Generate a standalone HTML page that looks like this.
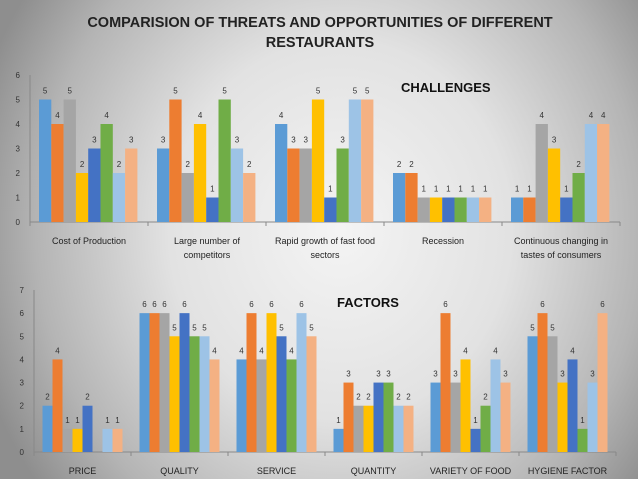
<!DOCTYPE html>
<html><head><meta charset="utf-8"><style>
html,body{margin:0;padding:0}
body{width:638px;height:479px;overflow:hidden;font-family:"Liberation Sans",sans-serif;
background:radial-gradient(ellipse 380px 420px at 340px 230px,#f4f4f4 0%,#e2e2e2 45%,#b4b4b4 80%,#8e8e8e 100%);}
svg{display:block}
</style></head><body>
<svg id="chart" width="638" height="479" xmlns="http://www.w3.org/2000/svg" font-family="Liberation Sans, sans-serif">
<text x="320" y="27" text-anchor="middle" font-size="14.5" font-weight="bold" fill="#222">COMPARISION OF THREATS AND OPPORTUNITIES OF DIFFERENT</text>
<text x="320" y="47" text-anchor="middle" font-size="14.5" font-weight="bold" fill="#222">RESTAURANTS</text>
<text x="401" y="92" font-size="13" font-weight="bold" fill="#111">CHALLENGES</text>
<text x="337" y="307" font-size="13" font-weight="bold" fill="#111">FACTORS</text>
<g id="top"></g><g id="bot"></g>
</svg>
<script>
const colors=["#5b9bd5","#ed7d31","#a5a5a5","#ffc000","#4472c4","#70ad47","#9dc3e6","#f4b183"];
const topCategories=[["Cost of Production"],["Large number of","competitors"],["Rapid growth of fast food","sectors"],["Recession"],["Continuous changing in","tastes of consumers"]];
const topValues=[[5,4,5,2,3,4,2,3],[3,5,2,4,1,5,3,2],[4,3,3,5,1,3,5,5],[2,2,1,1,1,1,1,1],[1,1,4,3,1,2,4,4]];
const topTicks=[0,1,2,3,4,5,6];
const botCategories=[["PRICE"],["QUALITY"],["SERVICE"],["QUANTITY"],["VARIETY OF FOOD"],["HYGIENE FACTOR"]];
const botValues=[[2,4,1,1,2,0,1,1],[6,6,6,5,6,5,5,4],[4,6,4,6,5,4,6,5],[1,3,2,2,3,3,2,2],[3,6,3,4,1,2,4,3],[5,6,5,3,4,1,3,6]];
const botTicks=[0,1,2,3,4,5,6,7];
const NS="http://www.w3.org/2000/svg";
function mk(p,t,a,txt){const e=document.createElementNS(NS,t);for(const k in a)e.setAttribute(k,a[k]);if(txt!==undefined)e.textContent=txt;p.appendChild(e);return e;}
function draw(g,cfg){
  const {x0,x1,y0,y1,ticks,cats,vals,bw,pad,name}=cfg;
  const max=ticks[ticks.length-1];
  const ys=v=>y0-(v/max)*(y0-y1);
  const cw=(x1-x0)/cats.length;
  mk(g,"line",{x1:x0,y1:y1,x2:x0,y2:y0,stroke:"#888","stroke-width":1});
  const ax=mk(g,"line",{x1:x0,y1:y0,x2:x1,y2:y0,stroke:"#888","stroke-width":1});
  
  
  ticks.forEach(t=>{
    const tl=mk(g,"text",{x:x0-10,y:ys(t)+3,"font-size":8,"text-anchor":"end",fill:"#333"},t);
    
    
  });
  for(let i=0;i<=cats.length;i++){const x=x0+i*cw;mk(g,"line",{x1:x,y1:y0,x2:x,y2:y0+4,stroke:"#888"});}
  cats.forEach((c,i)=>{
    const cx=x0+(i+0.5)*cw;
    c.forEach((ln,j)=>{
      const t=mk(g,"text",{x:cx,y:y0+22+j*14,"font-size":9,"text-anchor":"middle",fill:"#222"},ln);
      
      
    });
    vals[i].forEach((v,k)=>{
      const bx=x0+i*cw+pad+k*bw;
      const r=mk(g,"rect",{x:bx,y:ys(v),width:bw,height:y0-ys(v),fill:colors[k]});
      
      
      if(v>0){
        const l=mk(g,"text",{x:bx+bw/2,y:ys(v)-6,"font-size":8,"text-anchor":"middle",fill:"#333"},v);
        
        
      }
    });
  });
}
draw(document.getElementById("top"),{x0:30,x1:620,y0:222,y1:75,ticks:topTicks,cats:topCategories,vals:topValues,bw:12.3,pad:9,name:"challenges"});
draw(document.getElementById("bot"),{x0:34,x1:616,y0:452,y1:290,ticks:botTicks,cats:botCategories,vals:botValues,bw:10,pad:8.5,name:"factors"});
</script>
</body></html>
